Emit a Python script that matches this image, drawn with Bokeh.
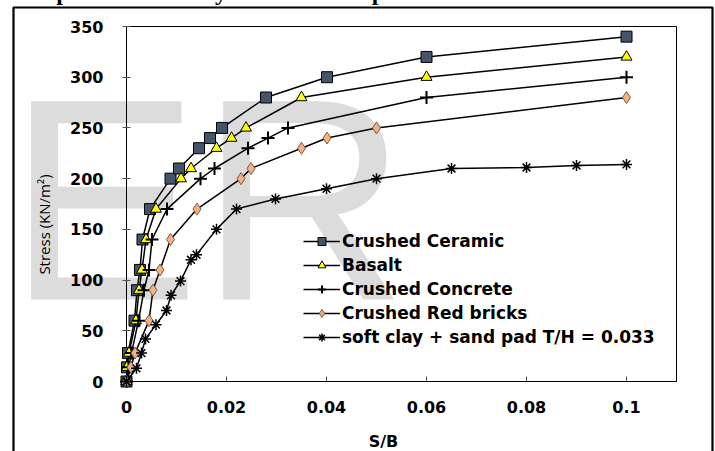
import math
from bokeh.plotting import figure
from bokeh.models import FixedTicker, Legend
from bokeh.core.properties import value
from bokeh.embed import file_html
from bokeh.resources import INLINE

# ---------------- data ----------------
x_ceramic = [0, 0.0001, 0.0003, 0.0016, 0.0021, 0.0027, 0.0032, 0.0047, 0.0088, 0.0105,
             0.0145, 0.0167, 0.0191, 0.0279, 0.0401, 0.0600, 0.1000]
y_ceramic = [0, 14, 28, 60, 90, 110, 140, 170, 200, 210, 230, 240, 250, 280, 300, 320, 340]

x_basalt = [0, 0.0001, 0.0005, 0.0019, 0.0025, 0.0031, 0.0039, 0.0059, 0.0109, 0.0129,
            0.0180, 0.0210, 0.0239, 0.0350, 0.0600, 0.1000]
y_basalt = [0, 14, 28, 60, 90, 110, 140, 170, 200, 210, 230, 240, 250, 280, 300, 320]

x_concrete = [0, 0.0004, 0.0010, 0.0024, 0.0035, 0.0045, 0.0051, 0.0081, 0.0148, 0.0176,
              0.0243, 0.0283, 0.0323, 0.0600, 0.1000]
y_concrete = [0, 14, 28, 60, 90, 110, 140, 170, 200, 210, 230, 240, 250, 280, 300]

x_bricks = [0, 0.0009, 0.0017, 0.0045, 0.0053, 0.0067, 0.0088, 0.0141, 0.0229, 0.0249,
            0.0350, 0.0401, 0.0500, 0.1000]
y_bricks = [0, 14, 28, 60, 90, 110, 140, 170, 200, 210, 230, 240, 250, 280]

x_clay = [0, 0.0020, 0.0030, 0.0038, 0.0059, 0.0080, 0.0089, 0.0108, 0.0129, 0.0140,
          0.0180, 0.0220, 0.0298, 0.0400, 0.0500, 0.0650, 0.0800, 0.0900, 0.1000]
y_clay = [0, 13, 28, 42, 56, 70, 85, 99, 120, 125, 150, 170, 180, 190, 200, 210, 211, 213, 214]

series_names = ["Crushed Ceramic", "Basalt", "Crushed Concrete", "Crushed Red bricks",
                "soft clay + sand pad T/H = 0.033"]

x_ticks = [0, 0.02, 0.04, 0.06, 0.08, 0.1]
x_tick_labels = ["0", "0.02", "0.04", "0.06", "0.08", "0.1"]
y_ticks = [0, 50, 100, 150, 200, 250, 300, 350]

x_title = "S/B"
y_title = "Stress (KN/m\u00b2)"
top_text = "compared to the clay without sand pad."
watermark = "ER"

# ---------------- figure ----------------
W, H = 715, 451
BL, BR, BT, BB = 126, 39, 26, 70
XMAX, YMAX = 0.11, 350

p = figure(width=W, height=H, output_backend="svg", toolbar_location=None,
           x_range=(0, XMAX), y_range=(0, YMAX),
           min_border_left=BL, min_border_right=BR, min_border_top=BT, min_border_bottom=BB)
p.background_fill_color = "white"
p.border_fill_color = "white"
p.outline_line_color = "black"
p.outline_line_width = 1
p.xgrid.visible = False
p.ygrid.visible = False

# helpers to place decorations from pixel positions
fw, fh = W - BL - BR, H - BT - BB
def dx(px):
    return (px - BL) * XMAX / fw
def dy(py):
    return (H - BB - py) * YMAX / fh

# watermark (below axes and data; glyph renderers at this level are not clipped)
p.text(x=[dx(7)], y=[dy(199)], text=[watermark], text_font=value("Liberation Sans"),
       text_font_size=value("288px"), text_color="#dcdcdc", text_baseline="alphabetic",
       text_align="left", level="guide")
# outer frame of the figure box in the page
p.quad(left=[dx(13)], right=[dx(712)], top=[dy(7)], bottom=[dy(700)],
       fill_color=None, line_color="black", line_width=2.2, level="guide")
# text from the page above, cut off at the top
p.text(x=[dx(13)], y=[dy(-8.5)], text=[top_text], text_font=value("Liberation Serif"),
       text_font_size=value("24px"), text_font_style="bold", text_color="black",
       text_baseline="alphabetic", text_align="left", level="overlay")

# axes
xa = p.xaxis[0]
xa.level = "annotation"
xa.ticker = FixedTicker(ticks=x_ticks)
xa.major_label_overrides = {t: l for t, l in zip(x_ticks, x_tick_labels)}
xa.minor_tick_line_color = None
xa.major_tick_in = 5
xa.major_tick_out = 0
xa.major_label_standoff = 19
xa.major_label_text_font = "DejaVu Sans"
xa.major_label_text_font_style = "bold"
xa.major_label_text_font_size = "16px"
xa.major_label_text_color = "black"
xa.axis_line_color = "black"
xa.major_tick_line_color = "#555555"

ya = p.yaxis[0]
ya.level = "annotation"
ya.ticker = FixedTicker(ticks=y_ticks)
ya.minor_tick_line_color = None
ya.major_tick_in = 4
ya.major_tick_out = 4
ya.major_label_standoff = 19
ya.major_label_text_font = "DejaVu Sans"
ya.major_label_text_font_style = "bold"
ya.major_label_text_font_size = "16px"
ya.major_label_text_color = "black"
ya.axis_line_color = "black"
ya.major_tick_line_color = "#555555"

# axis titles, placed where the reference has them
p.text(x=[dx(383)], y=[dy(441)], text=[x_title], text_font=value("DejaVu Sans"),
       text_font_size=value("16px"), text_font_style="bold", text_color="black",
       text_align="center", text_baseline="middle", level="overlay")
p.text(x=[dx(43)], y=[dy(224)], text=[y_title], text_font=value("Open Sans"),
       text_font_size=value("15px"), text_color="black", angle=math.pi / 2,
       text_align="center", text_baseline="middle", level="overlay")

# series (drawn above the watermark and axes)
LW = 1.5
r1 = p.line(x_ceramic, y_ceramic, line_color="black", line_width=LW, level="overlay")
m1 = p.scatter(x_ceramic, y_ceramic, marker="square", size=11, fill_color="#44546A",
               line_color="black", line_width=1, level="overlay")
r2 = p.line(x_basalt, y_basalt, line_color="black", line_width=LW, level="overlay")
m2 = p.scatter(x_basalt, y_basalt, marker="triangle", size=11, fill_color="#FFFF00",
               line_color="black", line_width=1, level="overlay")
r3 = p.line(x_concrete, y_concrete, line_color="black", line_width=LW, level="overlay")
m3 = p.scatter(x_concrete, y_concrete, marker="cross", size=13, line_color="black",
               line_width=2, level="overlay")
r4 = p.line(x_bricks, y_bricks, line_color="black", line_width=LW, level="overlay")
m4 = p.scatter(x_bricks, y_bricks, marker="diamond", size=12,
               fill_color="#F4B183", line_color="#7a5a48", line_width=1, level="overlay")
r5 = p.line(x_clay, y_clay, line_color="black", line_width=LW, level="overlay")
m5 = p.scatter(x_clay, y_clay, marker="asterisk", size=11, line_color="black",
               line_width=1.5, level="overlay")

legend = Legend(items=[(series_names[0], [r1, m1]), (series_names[1], [r2, m2]),
                       (series_names[2], [r3, m3]), (series_names[3], [r4, m4]),
                       (series_names[4], [r5, m5])],
                location=(177, 34))
legend.border_line_color = None
legend.background_fill_alpha = 0
legend.padding = 0
legend.margin = 0
legend.spacing = 4
legend.glyph_width = 37
legend.glyph_height = 20
legend.label_height = 20
legend.label_standoff = 2
legend.label_text_font = "DejaVu Sans"
legend.label_text_font_style = "bold"
legend.label_text_font_size = "17px"
legend.label_text_color = "black"
legend.label_text_baseline = "middle"
p.add_layout(legend)

open("out.html", "w").write(file_html(p, INLINE))
